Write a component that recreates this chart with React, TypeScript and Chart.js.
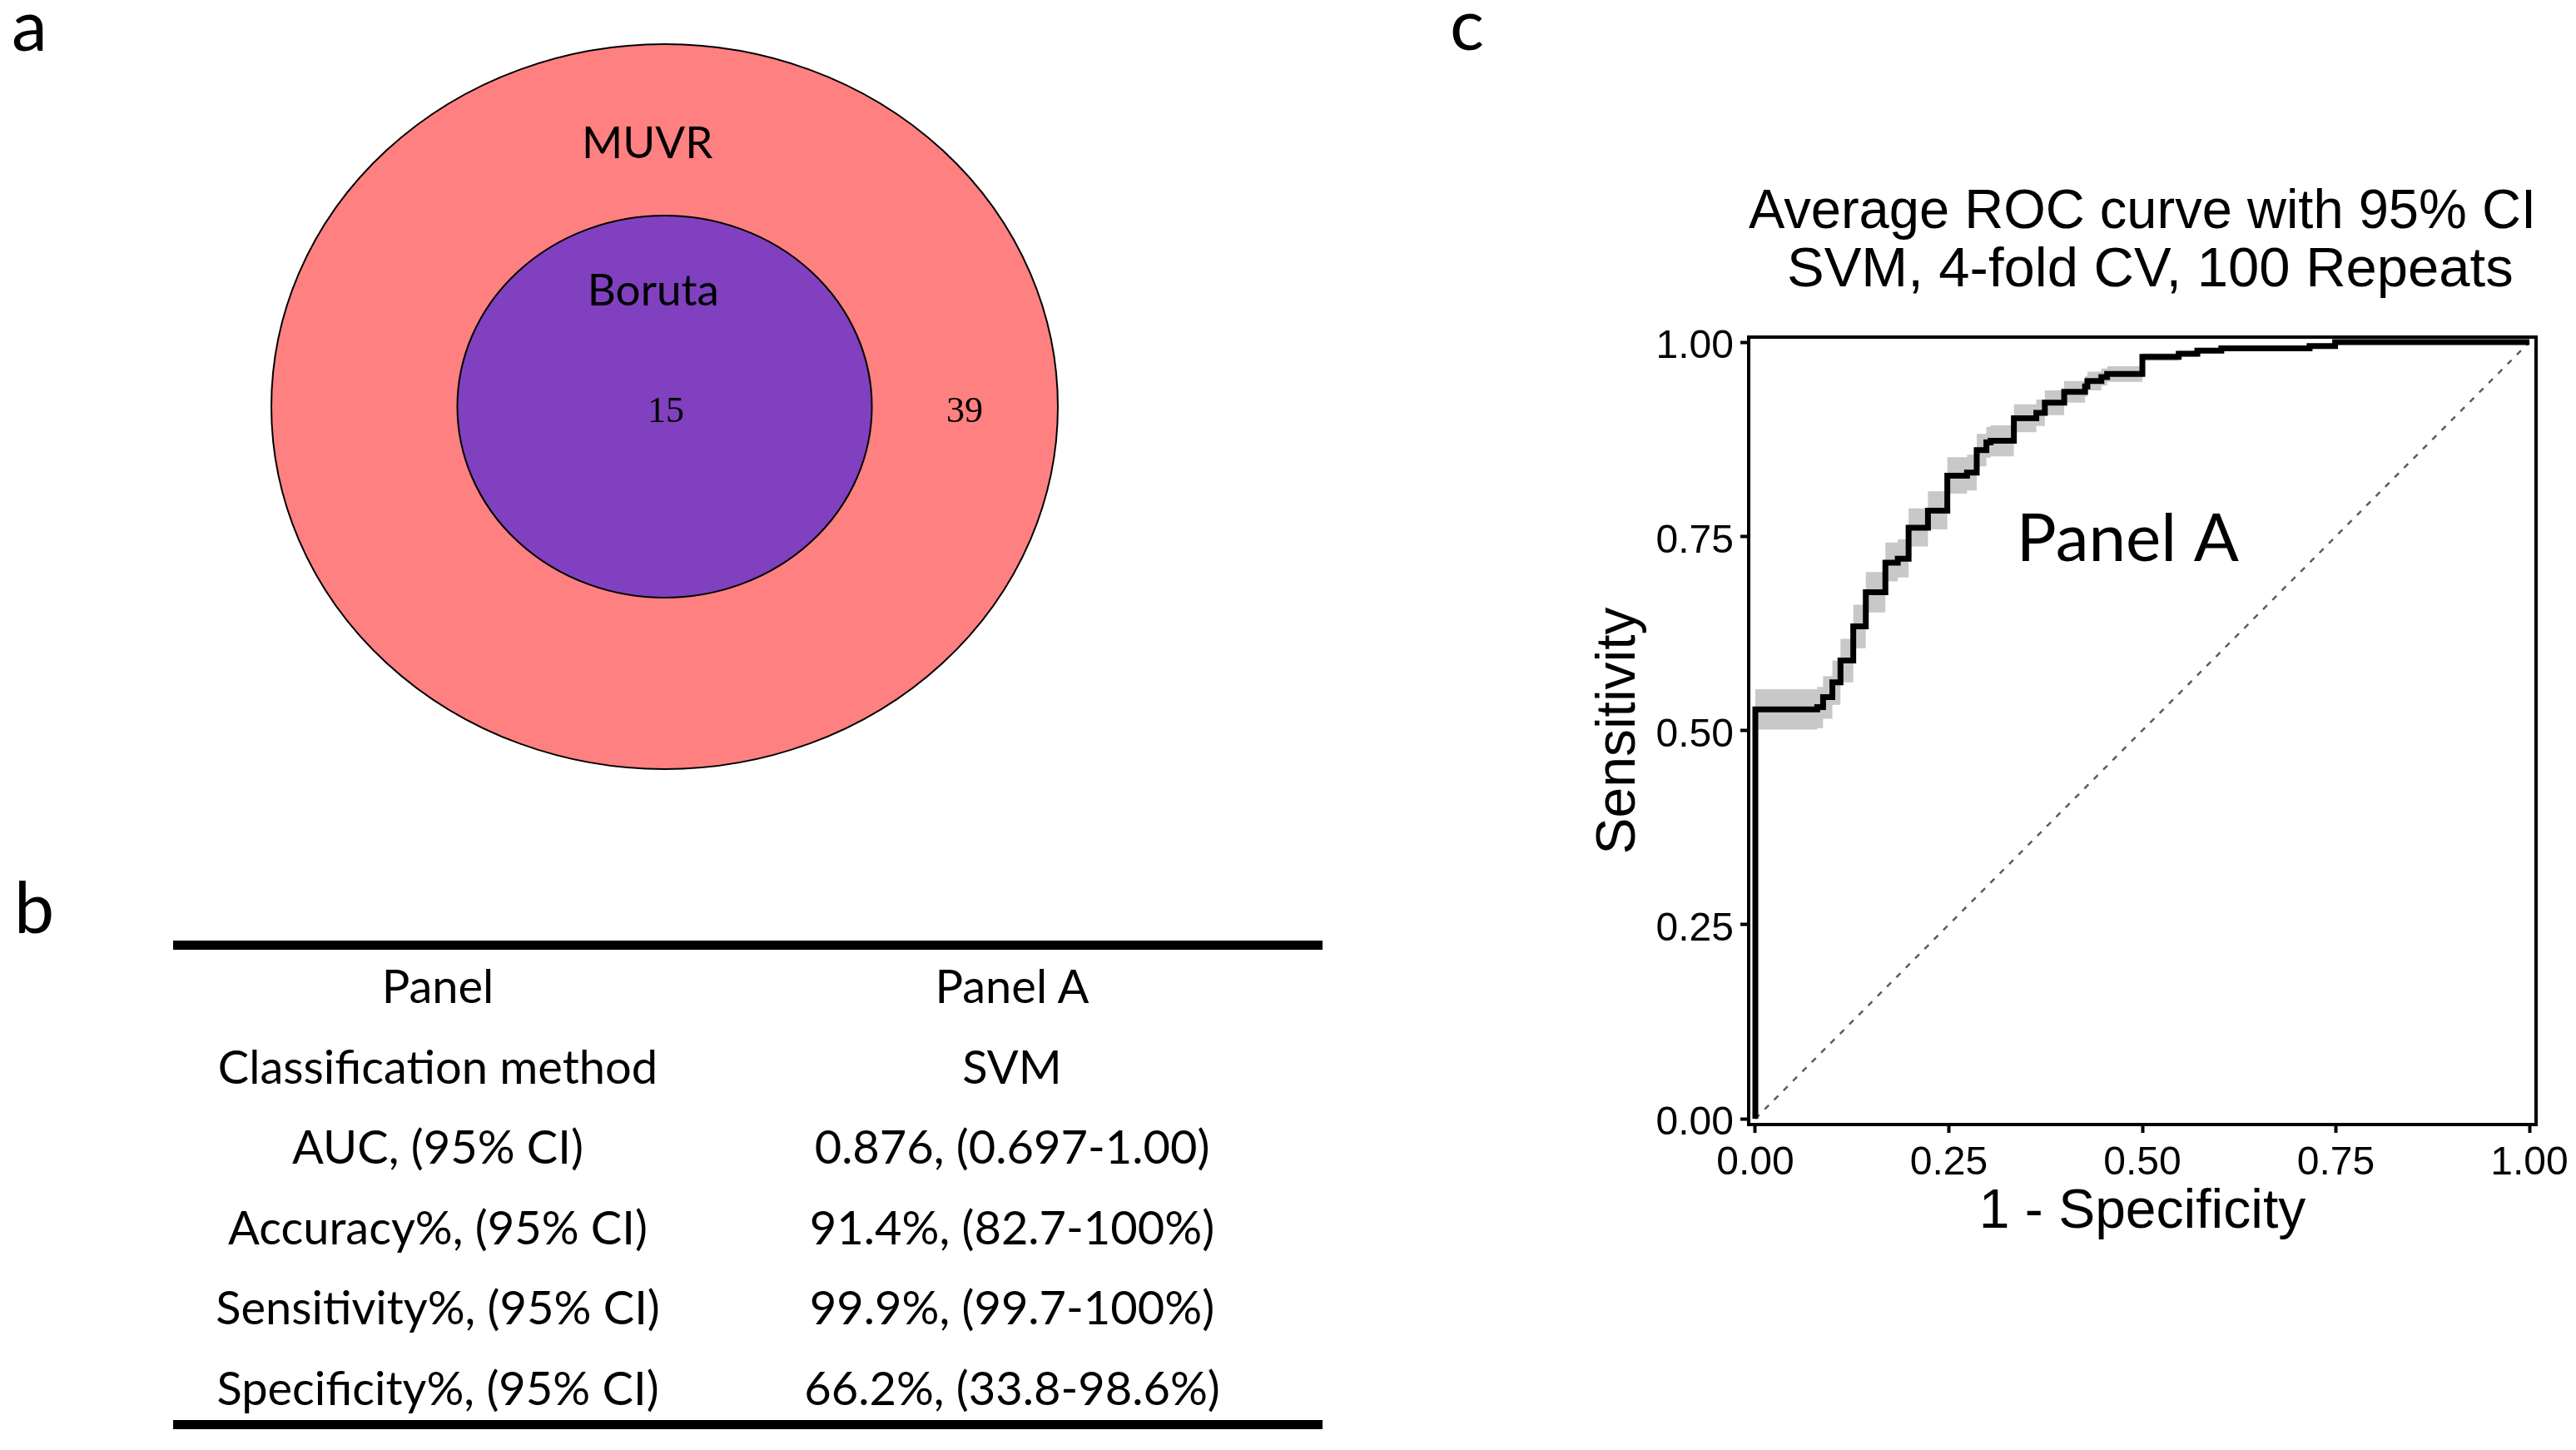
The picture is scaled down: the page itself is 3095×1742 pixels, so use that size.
import React, { useEffect, useRef } from 'react';
import { Chart, registerables } from 'chart.js';

Chart.register(...registerables);

// ---------------- data ----------------
const xTickValues = [0, 0.25, 0.5, 0.75, 1];
const yTickValues = [0, 0.25, 0.5, 0.75, 1];

// average ROC curve (1 - specificity, sensitivity): each point is where the step rises
const rocFpr = [0, 0, 0.08, 0.0875, 0.0995, 0.11, 0.1265, 0.1427, 0.168, 0.184, 0.198, 0.223, 0.248, 0.2735, 0.286, 0.2985, 0.304, 0.334, 0.363, 0.374, 0.399, 0.426, 0.429, 0.447, 0.4545, 0.5, 0.547, 0.571, 0.602, 0.716, 0.749, 1.0];
const rocTpr = [0, 0.527, 0.53, 0.543, 0.562, 0.59, 0.634, 0.678, 0.716, 0.721, 0.761, 0.783, 0.828, 0.832, 0.861, 0.871, 0.873, 0.902, 0.909, 0.922, 0.936, 0.943, 0.95, 0.955, 0.959, 0.981, 0.985, 0.989, 0.992, 0.995, 1.0, 1.0];
const ciUpper = [0, 0.553, 0.556, 0.57, 0.59, 0.618, 0.662, 0.704, 0.742, 0.746, 0.786, 0.808, 0.852, 0.855, 0.882, 0.891, 0.893, 0.92, 0.926, 0.938, 0.95, 0.956, 0.962, 0.966, 0.969, 0.986, 0.989, 0.992, 0.995, 0.998, 1.0, 1.0];
const ciLower = [0, 0.501, 0.503, 0.515, 0.533, 0.562, 0.606, 0.652, 0.692, 0.697, 0.737, 0.759, 0.805, 0.809, 0.84, 0.851, 0.853, 0.884, 0.892, 0.906, 0.922, 0.93, 0.938, 0.944, 0.949, 0.976, 0.981, 0.986, 0.989, 0.992, 0.998, 1.0];
const chanceLine = [0, 1];

const rocTitle = ['Average ROC curve with 95% CI', ' SVM, 4-fold CV, 100 Repeats'];
const rocXTitle = '1 - Specificity';
const rocYTitle = 'Sensitivity';
const rocPanelLabel = 'Panel A';

// Venn: [MUVR only, MUVR ∩ Boruta]
const vennSetNames = ['MUVR', 'Boruta'];
const vennRegionCounts = [39, 15];

// table
const tableRowLabels = ['Panel', 'Classification method', 'AUC, (95% CI)', 'Accuracy%, (95% CI)', 'Sensitivity%, (95% CI)', 'Specificity%, (95% CI)'];
const tableRowValues = ['Panel A', 'SVM', '0.876, (0.697-1.00)', '91.4%, (82.7-100%)', '99.9%, (99.7-100%)', '66.2%, (33.8-98.6%)'];

const panelLetters = ['a', 'b', 'c'];

// ---------------- layout / style ----------------
const W = 3095;
const H = 1742;
const ARIAL = 'Liberation Sans';
const CALIBRI = 'Lato';

const ROC_BOX = { left: 1880, top: 180, width: 1215, height: 1350 };
const VENN_BOX = { left: 316, top: 43, width: 965, height: 891 };
const VENN_RANGE = { x: 1.0212, y: 1.023 };
const VENN_FILLS = ['#FF8080', '#8040BF'];
const VENN_SET_LABEL_POS = [{ x: -0.044, y: 0.685 }, { x: -0.029, y: 0.279 }];
const VENN_COUNT_POS = [{ x: 0.763, y: -0.0425 }, { x: 0.003, y: -0.0425 }];
const PANEL_LABEL_POS = { x: 0.481, y: 0.718 };

const LETTER_POS = [{ x: 14, y: 61 }, { x: 17, y: 1121 }, { x: 1742, y: 60 }];
const TABLE = { left: 208, right: 1589, topRule: 1130, bottomRule: 1706, rule: 11, col1: 526, col2: 1216, firstBaseline: 1205, rowStep: 96.6, fontSize: 56 };

Chart.defaults.font.family = ARIAL;

const panelBorderPlugin = {
  id: 'panelBorder',
  afterDatasetsDraw(chart: any) {
    const { ctx, chartArea: a, scales } = chart;
    ctx.save();
    ctx.fillStyle = '#000';
    ctx.font = `80px ${CALIBRI}`;
    ctx.textAlign = 'center';
    ctx.textBaseline = 'alphabetic';
    ctx.fillText(rocPanelLabel, scales.x.getPixelForValue(PANEL_LABEL_POS.x), scales.y.getPixelForValue(PANEL_LABEL_POS.y));
    ctx.strokeStyle = '#000';
    ctx.lineWidth = 4;
    ctx.strokeRect(a.left, a.top, a.right - a.left, a.bottom - a.top);
    ctx.restore();
  },
};

function RocChart() {
  const ref = useRef<HTMLCanvasElement | null>(null);
  useEffect(() => {
    const canvas = ref.current;
    if (!canvas) return;
    const pts = (ys: number[]) => rocFpr.map((x, i) => ({ x, y: ys[i] }));
    const tickFont = { family: ARIAL, size: 48 };
    const titleFont = { family: ARIAL, size: 66, lineHeight: 1.2 };
    const grid = { display: true, drawOnChartArea: false, drawTicks: true, tickLength: 10, tickWidth: 4, tickColor: '#000', color: '#000' };
    const chart = new Chart(canvas, {
      type: 'line',
      data: {
        datasets: [
          { label: 'CI upper', data: pts(ciUpper), stepped: 'before', borderWidth: 0, borderColor: 'rgba(0,0,0,0)', backgroundColor: '#C8C8C8', fill: '+1', pointRadius: 0, order: 3 },
          { label: 'CI lower', data: pts(ciLower), stepped: 'before', borderWidth: 0, borderColor: 'rgba(0,0,0,0)', fill: false, pointRadius: 0, order: 3 },
          { label: 'Chance', data: chanceLine.map((v) => ({ x: v, y: v })), borderColor: '#5c5c5c', borderWidth: 2.5, borderDash: [7, 9], fill: false, pointRadius: 0, order: 2 },
          { label: 'Average ROC', data: pts(rocTpr), stepped: 'before', borderColor: '#000', borderWidth: 7, fill: false, pointRadius: 0, order: 1 },
        ] as any,
      },
      options: {
        responsive: false,
        animation: false,
        devicePixelRatio: 1,
        events: [],
        layout: { padding: { top: 0, right: 48, bottom: 0, left: 0 } },
        plugins: {
          legend: { display: false },
          tooltip: { enabled: false },
          title: {
            display: true,
            text: rocTitle,
            fullSize: false,
            align: 'center',
            color: '#000',
            font: { family: ARIAL, size: 67, lineHeight: 70 / 67, weight: 'normal' },
            padding: { top: 41, bottom: 44 },
          },
        },
        scales: {
          x: {
            type: 'linear',
            min: -0.0086,
            max: 1.0086,
            afterBuildTicks: (s: any) => { s.ticks = xTickValues.map((v) => ({ value: v })); },
            afterFit: (s: any) => { s.height = 179; },
            ticks: { callback: (v: any) => Number(v).toFixed(2), color: '#000', font: tickFont, padding: 8, maxRotation: 0, autoSkip: false },
            grid,
            border: { display: false },
            title: { display: true, text: rocXTitle, color: '#000', font: titleFont, padding: { top: 0, bottom: 34 } },
          },
          y: {
            type: 'linear',
            min: -0.0075,
            max: 1.0065,
            afterBuildTicks: (s: any) => { s.ticks = yTickValues.map((v) => ({ value: v })); },
            afterFit: (s: any) => { s.width = 221; },
            ticks: { callback: (v: any) => Number(v).toFixed(2), color: '#000', font: tickFont, padding: 8, labelOffset: 6, autoSkip: false },
            grid,
            border: { display: false },
            title: { display: true, text: rocYTitle, color: '#000', font: titleFont, padding: { top: 26, bottom: 0 } },
          },
        },
      } as any,
      plugins: [panelBorderPlugin],
    });
    return () => chart.destroy();
  }, []);
  return (
    <canvas
      ref={ref}
      width={ROC_BOX.width}
      height={ROC_BOX.height}
      style={{ position: 'absolute', left: ROC_BOX.left, top: ROC_BOX.top, width: ROC_BOX.width, height: ROC_BOX.height }}
    />
  );
}

const vennPlugin = {
  id: 'venn',
  beforeDatasetsDraw(chart: any) {
    const { ctx, scales } = chart;
    const { x, y } = scales;
    const setSizes = [vennRegionCounts[0] + vennRegionCounts[1], vennRegionCounts[1]];
    const radii = setSizes.map((s) => Math.sqrt(s / setSizes[0]));
    const cx = x.getPixelForValue(0);
    const cy = y.getPixelForValue(0);
    ctx.save();
    radii.forEach((r, i) => {
      const rx = x.getPixelForValue(r) - cx;
      const ry = cy - y.getPixelForValue(r);
      ctx.beginPath();
      ctx.ellipse(cx, cy, rx, ry, 0, 0, Math.PI * 2);
      ctx.fillStyle = VENN_FILLS[i];
      ctx.fill();
      ctx.lineWidth = 2;
      ctx.strokeStyle = '#000';
      ctx.stroke();
    });
    ctx.fillStyle = '#000';
    ctx.textAlign = 'center';
    ctx.textBaseline = 'alphabetic';
    ctx.font = `53px ${CALIBRI}`;
    vennSetNames.forEach((name, i) => {
      ctx.fillText(name, x.getPixelForValue(VENN_SET_LABEL_POS[i].x), y.getPixelForValue(VENN_SET_LABEL_POS[i].y));
    });
    ctx.font = `44px "Liberation Serif"`;
    vennRegionCounts.forEach((c, i) => {
      ctx.fillText(String(c), x.getPixelForValue(VENN_COUNT_POS[i].x), y.getPixelForValue(VENN_COUNT_POS[i].y));
    });
    ctx.restore();
  },
};

function VennChart() {
  const ref = useRef<HTMLCanvasElement | null>(null);
  useEffect(() => {
    const canvas = ref.current;
    if (!canvas) return;
    const chart = new Chart(canvas, {
      type: 'scatter',
      data: {
        datasets: vennSetNames.map((name) => ({ label: name, data: [{ x: 0, y: 0 }], pointRadius: 0 })),
      },
      options: {
        responsive: false,
        animation: false,
        devicePixelRatio: 1,
        events: [],
        layout: { padding: 0 },
        plugins: { legend: { display: false }, tooltip: { enabled: false }, title: { display: false } },
        scales: {
          x: { type: 'linear', display: false, min: -VENN_RANGE.x, max: VENN_RANGE.x },
          y: { type: 'linear', display: false, min: -VENN_RANGE.y, max: VENN_RANGE.y },
        },
      } as any,
      plugins: [vennPlugin],
    });
    return () => chart.destroy();
  }, []);
  return (
    <canvas
      ref={ref}
      width={VENN_BOX.width}
      height={VENN_BOX.height}
      style={{ position: 'absolute', left: VENN_BOX.left, top: VENN_BOX.top, width: VENN_BOX.width, height: VENN_BOX.height }}
    />
  );
}

function Overlay() {
  return (
    <svg width={W} height={H} style={{ position: 'absolute', left: 0, top: 0, pointerEvents: 'none' }}>
      {panelLetters.map((l, i) => (
        <text key={l} x={LETTER_POS[i].x} y={LETTER_POS[i].y} fontFamily={CALIBRI} fontSize={86} fill="#000">{l}</text>
      ))}
      <rect x={TABLE.left} y={TABLE.topRule} width={TABLE.right - TABLE.left} height={TABLE.rule} fill="#000" />
      {tableRowLabels.map((lab, i) => (
        <g key={lab}>
          <text x={TABLE.col1} y={TABLE.firstBaseline + i * TABLE.rowStep} textAnchor="middle" fontFamily={CALIBRI} fontSize={TABLE.fontSize} fill="#000">{lab}</text>
          <text x={TABLE.col2} y={TABLE.firstBaseline + i * TABLE.rowStep} textAnchor="middle" fontFamily={CALIBRI} fontSize={TABLE.fontSize} fill="#000">{tableRowValues[i]}</text>
        </g>
      ))}
      <rect x={TABLE.left} y={TABLE.bottomRule} width={TABLE.right - TABLE.left} height={TABLE.rule} fill="#000" />
    </svg>
  );
}

export default function App() {
  return (
    <div style={{ position: 'absolute', left: 0, top: 0, width: W, height: H, background: '#fff', overflow: 'hidden' }}>
      <VennChart />
      <RocChart />
      <Overlay />
    </div>
  );
}
